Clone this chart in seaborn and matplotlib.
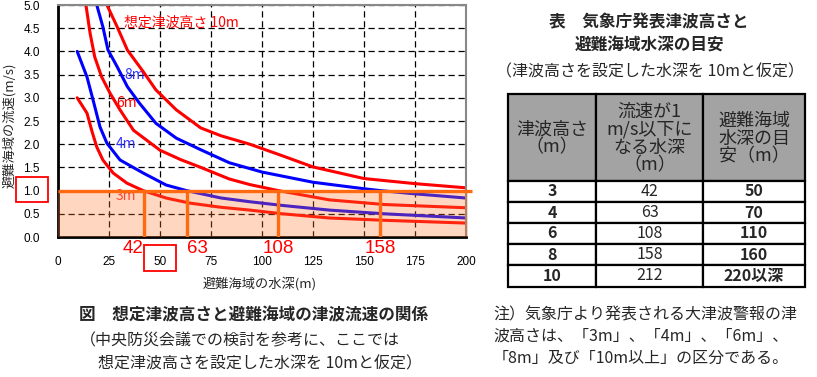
import seaborn as sns
import matplotlib.pyplot as plt
import pandas as pd
from matplotlib.patches import Rectangle

# 曲線データ
heights = ['3m', '4m', '6m', '8m', '10m']
depth_3m = [9.4, 14.2, 16.7, 19, 22, 27, 33.8, 41.7, 53, 64.7, 80, 94, 110, 133, 160, 200]
speed_3m = [3.0, 2.67, 2.27, 1.94, 1.66, 1.38, 1.16, 1.0, 0.84, 0.73, 0.64, 0.58, 0.5, 0.41, 0.36, 0.30]
depth_4m = [9.4, 14.2, 17.2, 20.6, 24, 30.4, 41.7, 53, 63, 80, 94, 110, 133, 160, 200]
speed_4m = [4.0, 3.45, 2.95, 2.37, 2.02, 1.66, 1.38, 1.12, 1.0, 0.84, 0.76, 0.68, 0.58, 0.5, 0.41]
depth_6m = [13.7, 15.7, 18, 21.4, 25.5, 30.4, 37, 50, 60, 70, 84, 94, 108, 133, 160, 200]
speed_6m = [5.0, 4.4, 3.88, 3.45, 3.1, 2.74, 2.3, 1.87, 1.67, 1.5, 1.25, 1.13, 1.0, 0.8, 0.7, 0.63]
depth_8m = [19, 22, 24.5, 29, 34, 40, 48, 58, 70, 84, 100, 125, 150, 158, 175, 200]
speed_8m = [5.0, 4.53, 4.03, 3.67, 3.24, 2.88, 2.45, 2.13, 1.88, 1.6, 1.4, 1.18, 1.04, 1.0, 0.93, 0.84]
depth_10m = [24, 29, 34, 42, 48, 58, 70, 80, 94, 110, 125, 150, 175, 200]
speed_10m = [5.0, 4.53, 4.03, 3.55, 3.17, 2.74, 2.35, 2.18, 2.0, 1.75, 1.51, 1.26, 1.15, 1.06]

threshold = 1.0
depth_at_1 = [42, 63, 108, 158, 212]

# 表データ
col_headers = ['津波高さ\n（m）', '流速が1\nm/s以下に\nなる水深\n（m）', '避難海域\n水深の目\n安（m）']
table_heights = ['3', '4', '6', '8', '10']
table_depths = ['42', '63', '108', '158', '212']
table_targets = ['50', '70', '110', '160', '220以深']

sns.set_theme(style='white')
plt.rcParams['font.family'] = ['Noto Sans CJK JP', 'DejaVu Sans']
num_font = ['Liberation Sans', 'DejaVu Sans']

W, H = 817, 377
fig = plt.figure(figsize=(W / 100, H / 100), dpi=100)


def fx(px):
    return px / W


def fy(py):
    return 1 - py / H


ax = fig.add_axes([fx(58), fy(237), fx(466) - fx(58), fy(5) - fy(237)])

depths = [depth_3m, depth_4m, depth_6m, depth_8m, depth_10m]
speeds = [speed_3m, speed_4m, speed_6m, speed_8m, speed_10m]
df = pd.concat([pd.DataFrame({'depth': d, 'speed': s, 'height': h})
                for d, s, h in zip(depths, speeds, heights)])
palette = {'3m': '#ff0000', '4m': '#0000ff', '6m': '#ff0000', '8m': '#0000ff', '10m': '#ff0000'}
sns.lineplot(data=df, x='depth', y='speed', hue='height', palette=palette,
             estimator=None, sort=False, lw=2.2, legend=False, ax=ax, zorder=2)

# 流速1m/s以下の範囲
ax.fill_between([0, 201], 0, threshold, color='#ff7a2e', alpha=0.3, lw=0,
                zorder=3, clip_on=False)
ax.hlines(threshold, 0, 203, color='#ff6a10', lw=2.4, zorder=4, clip_on=False)
shown = [d for d in depth_at_1 if d <= 200]
ax.vlines(shown, 0, threshold, color='#ff6a10', lw=2.4, zorder=4)
for d, ha in zip(shown, ['right', 'left', 'center', 'center']):
    ax.text(d, -0.24, str(d), color='red', fontsize=13.5, ha=ha, va='center',
            family=num_font, clip_on=False)

# 曲線ラベル
label_text = ['3m', '4m', '6m', '8m', '想定津波高さ 10m']
label_x = [28.4, 28.4, 28.4, 32.4, 32.4]
label_y = [0.88, 2.0, 2.89, 3.49, 4.61]
label_col = ['#ff3030', '#3030ff', '#ff0000', '#3030ff', '#ff0000']
for t, x, y, c in zip(label_text, label_x, label_y, label_col):
    ax.text(x, y, t, color=c, fontsize=10, ha='left', va='center', zorder=1)

ax.set_xlim(0, 200)
ax.set_ylim(0, 5)
ax.set_xticks(range(0, 201, 25))
ax.set_yticks([i * 0.5 for i in range(11)])
ax.set_yticklabels([f'{i * 0.5:.1f}' for i in range(11)])
ax.tick_params(length=0, labelsize=8.5, pad=0)
ax.tick_params(axis='x', pad=14)
ax.tick_params(axis='y', pad=13)
for lab in ax.get_xticklabels() + ax.get_yticklabels():
    lab.set_family(num_font)
    lab.set_color('black')
ax.grid(True, color='black', ls=(0, (5, 3)), lw=0.9)
ax.set_xlabel('')
ax.set_ylabel('')
for s in ['left', 'bottom']:
    ax.spines[s].set_color('black')
    ax.spines[s].set_linewidth(2)
for s in ['top', 'right']:
    ax.spines[s].set_color('#888888')
    ax.spines[s].set_linewidth(1.5)

fig.text(fx(260), fy(284), '避難海域の水深(m)', fontsize=9.5, ha='center', va='center')
fig.text(fx(9), fy(125), '避難海域の流速(m/s)', fontsize=9.5, ha='center', va='center',
         rotation=90)

# 赤枠
fig.add_artist(Rectangle((fx(144), fy(271)), fx(176) - fx(144), fy(245) - fy(271),
                         transform=fig.transFigure, fill=False, ec='red', lw=1.3))
fig.add_artist(Rectangle((fx(16), fy(202)), fx(48) - fx(16), fy(177) - fy(202),
                         transform=fig.transFigure, fill=False, ec='red', lw=1.3))

# 図の説明
fig.text(fx(254), fy(315), '図　想定津波高さと避難海域の津波流速の関係', fontsize=12,
         fontweight='bold', ha='center', va='center')
fig.text(fx(80), fy(341), '（中央防災会議での検討を参考に、ここでは', fontsize=11.5,
         ha='left', va='center')
fig.text(fx(98), fy(364), '想定津波高さを設定した水深を 10mと仮定）', fontsize=11.5,
         ha='left', va='center')

# 表のタイトル
fig.text(fx(649), fy(22), '表　気象庁発表津波高さと', fontsize=12, fontweight='bold',
         ha='center', va='center')
fig.text(fx(649), fy(46), '避難海域水深の目安', fontsize=12, fontweight='bold',
         ha='center', va='center')
fig.text(fx(650), fy(72), '（津波高さを設定した水深を 10mと仮定）', fontsize=11.5,
         ha='center', va='center')

# 表
col_edges = [508, 596, 703, 805]
row_edges = [94, 181, 202, 223, 244, 265, 287]
tax = fig.add_axes([fx(508), fy(287), fx(805) - fx(508), fy(94) - fy(287)])
tax.set_xlim(508, 805)
tax.set_ylim(287, 94)
tax.axis('off')
columns = [table_heights, table_depths, table_targets]
weights = ['bold', 'normal', 'bold']
for j in range(3):
    x0, x1 = col_edges[j], col_edges[j + 1]
    tax.add_patch(Rectangle((x0, row_edges[0]), x1 - x0, row_edges[1] - row_edges[0],
                            fc='#a3a3a3', ec='black', lw=1.6, clip_on=False))
    tax.text((x0 + x1) / 2, (row_edges[0] + row_edges[1]) / 2 + 1, col_headers[j],
             fontsize=13, ha='center', va='center', linespacing=1.0)
    for i, val in enumerate(columns[j]):
        y0, y1 = row_edges[i + 1], row_edges[i + 2]
        tax.add_patch(Rectangle((x0, y0), x1 - x0, y1 - y0, fc='white', ec='black',
                                lw=1.6, clip_on=False))
        tax.text((x0 + x1) / 2, (y0 + y1) / 2, val, fontsize=11.5, fontweight=weights[j],
                 ha='center', va='center')

# 注記
notes = ['注）気象庁より発表される大津波警報の津',
         '波高さは、「3m」、「4m」、「6m」、',
         '「8m」及び「10m以上」の区分である。']
for k, line in enumerate(notes):
    fig.text(fx(493), fy(315 + 21.5 * k), line, fontsize=11.5, ha='left', va='center')

fig.savefig('out.png', dpi=100)
